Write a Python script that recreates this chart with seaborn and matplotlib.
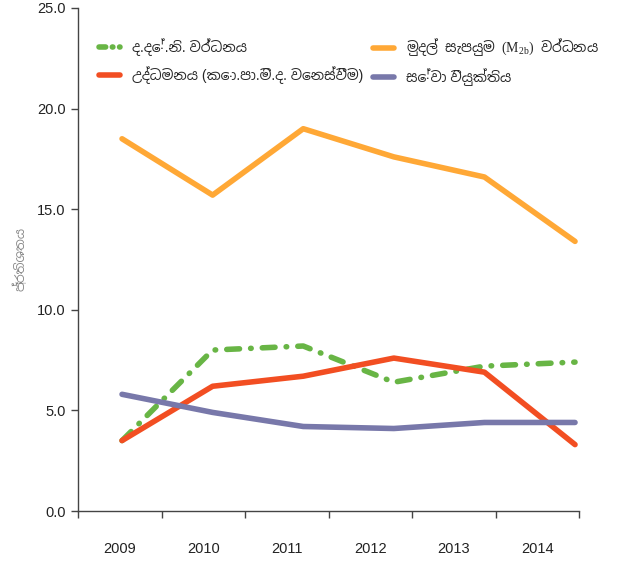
import numpy as np
import pandas as pd
import matplotlib
matplotlib.use('Agg')
import matplotlib.pyplot as plt
from matplotlib.lines import Line2D
from matplotlib.ticker import FixedLocator, NullFormatter
import seaborn as sns

years = [2009, 2010, 2011, 2012, 2013, 2014]
gdp_growth = [3.5, 8.0, 8.2, 6.4, 7.2, 7.4]
inflation = [3.5, 6.2, 6.7, 7.6, 6.9, 3.3]
m2b_growth = [18.5, 15.7, 19.0, 17.6, 16.6, 13.4]
unemployment = [5.8, 4.9, 4.2, 4.1, 4.4, 4.4]

names = [
    'ද.දේ.නි. වර්ධනය',
    'උද්ධමනය (කො.පා.මි.ද. වෙනස්වීම)',
    'මුදල් සැපයුම $\\mathrm{(M_{2b})}$ වර්ධනය',
    'සේවා වියුක්තිය',
]
series = [gdp_growth, inflation, m2b_growth, unemployment]
colors = ['#68b545', '#f24e22', '#ffa836', '#7878aa']
y_label = 'ප්‍රතිශතය'

df = pd.DataFrame({
    'year': np.tile(years, len(names)),
    'value': np.concatenate(series),
    'series': np.repeat(names, len(years)),
})

sns.set_style('white')
plt.rcParams['font.family'] = ['Liberation Sans', 'Noto Sans Sinhala', 'DejaVu Sans']
# the (M2b) part is drawn in a serif face like the original
plt.rcParams['mathtext.fontset'] = 'custom'
plt.rcParams['mathtext.rm'] = 'Liberation Serif'
plt.rcParams['mathtext.it'] = 'Liberation Serif:italic'
plt.rcParams['mathtext.fallback'] = 'stix'

fig = plt.figure(figsize=(6.21, 5.70), dpi=100)
ax = fig.add_axes([0.1256, 0.1035, 0.8068, 0.8825])

palette = dict(zip(names, colors))
dashes = {n: '' for n in names}
dashes[names[0]] = (2.3, 2.0, 0.1, 2.0)
sns.lineplot(data=df, x='year', y='value', hue='series', style='series',
             palette=palette, dashes=dashes, linewidth=4, legend=False, ax=ax)
for ln in ax.lines:
    ln.set_solid_capstyle('round')
    ln.set_dash_capstyle('round')

# axes limits / ticks
x0, x1 = 2008.514, 2014.044
ax.set_xlim(x0, x1)
ax.set_ylim(0, 25)
bounds = np.linspace(x0, x1, 7)
ax.xaxis.set_major_locator(FixedLocator(bounds))
ax.xaxis.set_major_formatter(NullFormatter())
mids = (bounds[:-1] + bounds[1:]) / 2
ax.set_xticks(mids, minor=True)
ax.set_xticklabels([str(y) for y in years], minor=True)
ax.set_yticks(np.arange(0, 26, 5))
ax.set_yticklabels([f'{v:.1f}' for v in np.arange(0, 26, 5)])

ax.tick_params(axis='x', which='major', direction='out', length=5, width=1,
               color='#444444', bottom=True)
ax.tick_params(axis='x', which='minor', length=0, pad=22, labelsize=10.5,
               labelcolor='#222222', bottom=True)
ax.tick_params(axis='y', direction='out', length=5, width=1, color='#444444',
               pad=4, labelsize=10.5, labelcolor='#222222', left=True)

for side in ['top', 'right']:
    ax.spines[side].set_visible(False)
for side in ['left', 'bottom']:
    ax.spines[side].set_color('#444444')
    ax.spines[side].set_linewidth(1)

ax.set_xlabel('')
ax.set_ylabel(y_label, fontsize=9, color='#888888', labelpad=7)

handles = []
for n, c in zip(names, colors):
    ls = (0, (1.2, 1.2, 0.1, 1.2)) if n == names[0] else '-'
    handles.append(Line2D([0], [0], color=c, lw=4, linestyle=ls,
                          solid_capstyle='round', dash_capstyle='round'))

leg_kw = dict(frameon=False, loc='upper left', fontsize=10, borderpad=0,
              handlelength=1.5, handletextpad=0.85, labelspacing=0.7)
leg1 = ax.legend(handles[:2], names[:2], bbox_to_anchor=(0.028, 0.953), **leg_kw)
ax.add_artist(leg1)
leg2 = ax.legend(handles[2:], names[2:], bbox_to_anchor=(0.575, 0.957), **leg_kw)
# the mixed mathtext label needs a single family that has the sinhala glyphs
leg2.get_texts()[0].set_fontfamily('Noto Sans Sinhala')

fig.savefig('out.png', dpi=100)
